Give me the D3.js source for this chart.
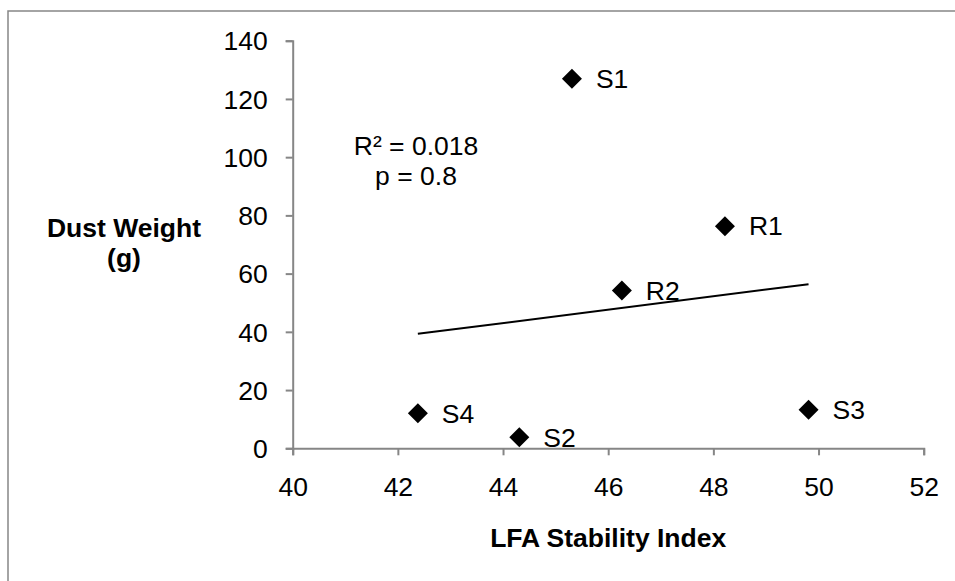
<!DOCTYPE html>
<html>
<head>
<meta charset="utf-8">
<script src="https://cdn.jsdelivr.net/npm/d3@7"></script>
<style>
  html, body { margin: 0; padding: 0; background: #fff; }
  svg { display: block; font-family: "Liberation Sans", Arial, sans-serif; }
</style>
</head>
<body>
<svg id="chart" width="955" height="581"></svg>
<script>
// Sites and their measurements
const sites = ["S1", "R1", "R2", "S4", "S2", "S3"];
const stabilityIndex = [45.31, 48.22, 46.26, 42.38, 44.31, 49.81];
const dustWeight = [126.9, 76.3, 54.2, 12.0, 3.8, 13.2];

const xTicks = [40, 42, 44, 46, 48, 50, 52];
const yTicks = [0, 20, 40, 60, 80, 100, 120, 140];
const statLines = ["R\u00B2 = 0.018", "p = 0.8"];

const svg = d3.select("#chart");
const axisColor = "#868686";
const fontSize = 26.5;

// outer chart frame
svg.append("rect")
  .attr("x", 8).attr("y", 11)
  .attr("width", 1000).attr("height", 700)
  .attr("fill", "none").attr("stroke", axisColor).attr("stroke-width", 1.5);

const plot = { left: 292.7, right: 923.7, top: 40.7, bottom: 448.3 };

const x = d3.scaleLinear().domain([40, 52]).range([plot.left, plot.right]);
const y = d3.scaleLinear().domain([0, 140]).range([plot.bottom, plot.top]);

// axes
const xAxis = svg.append("g")
  .attr("transform", `translate(0,${plot.bottom})`)
  .call(d3.axisBottom(x).tickValues(xTicks).tickSize(7).tickPadding(22).tickFormat(d3.format("d")));
const yAxis = svg.append("g")
  .attr("transform", `translate(${plot.left},0)`)
  .call(d3.axisLeft(y).tickValues(yTicks).tickSize(7).tickPadding(18).tickFormat(d3.format("d")));

[xAxis, yAxis].forEach(g => {
  g.select(".domain").attr("stroke", axisColor).attr("stroke-width", 2);
  g.selectAll(".tick line").attr("stroke", axisColor).attr("stroke-width", 2);
  g.selectAll(".tick text")
    .attr("fill", "#000")
    .attr("font-size", fontSize)
    .attr("font-family", "Liberation Sans, Arial, sans-serif");
});
xAxis.selectAll(".tick text").attr("dy", "0.71em");
yAxis.selectAll(".tick text").attr("dy", "0.35em");

// least-squares trend line across the data range
const n = sites.length;
const mx = d3.mean(stabilityIndex), my = d3.mean(dustWeight);
let sxy = 0, sxx = 0;
for (let i = 0; i < n; i++) {
  sxy += (stabilityIndex[i] - mx) * (dustWeight[i] - my);
  sxx += (stabilityIndex[i] - mx) ** 2;
}
const slope = sxy / sxx, intercept = my - slope * mx;
const [xmin, xmax] = d3.extent(stabilityIndex);
svg.append("line")
  .attr("x1", x(xmin)).attr("y1", y(intercept + slope * xmin))
  .attr("x2", x(xmax)).attr("y2", y(intercept + slope * xmax))
  .attr("stroke", "#000").attr("stroke-width", 2);

// diamond markers
const points = sites.map((s, i) => ({ site: s, xv: stabilityIndex[i], yv: dustWeight[i] }));
const diamond = d3.symbol().type(d3.symbolSquare).size(200);
svg.append("g").selectAll("path")
  .data(points).join("path")
  .attr("d", diamond)
  .attr("transform", d => `translate(${x(d.xv)},${y(d.yv)}) rotate(45)`)
  .attr("fill", "#000");

// site labels
svg.append("g").selectAll("text")
  .data(points).join("text")
  .attr("x", d => x(d.xv) + 24)
  .attr("y", d => y(d.yv))
  .attr("dy", "0.35em")
  .attr("font-size", fontSize)
  .attr("fill", "#000")
  .text(d => d.site);

// regression statistics, one text per line
svg.append("g").selectAll("text")
  .data(statLines).join("text")
  .attr("text-anchor", "middle")
  .attr("font-size", fontSize)
  .attr("x", 416)
  .attr("y", (d, i) => 155 + i * 30)
  .text(d => d);

// axis titles
svg.append("text")
  .attr("x", x(46)).attr("y", 547)
  .attr("text-anchor", "middle")
  .attr("font-size", fontSize).attr("font-weight", "bold")
  .text("LFA Stability Index");

svg.append("g").selectAll("text")
  .data(["Dust Weight", "(g)"]).join("text")
  .attr("text-anchor", "middle")
  .attr("font-size", fontSize).attr("font-weight", "bold")
  .attr("x", 124)
  .attr("y", (d, i) => 237 + i * 30)
  .text(d => d);
</script>
</body>
</html>
